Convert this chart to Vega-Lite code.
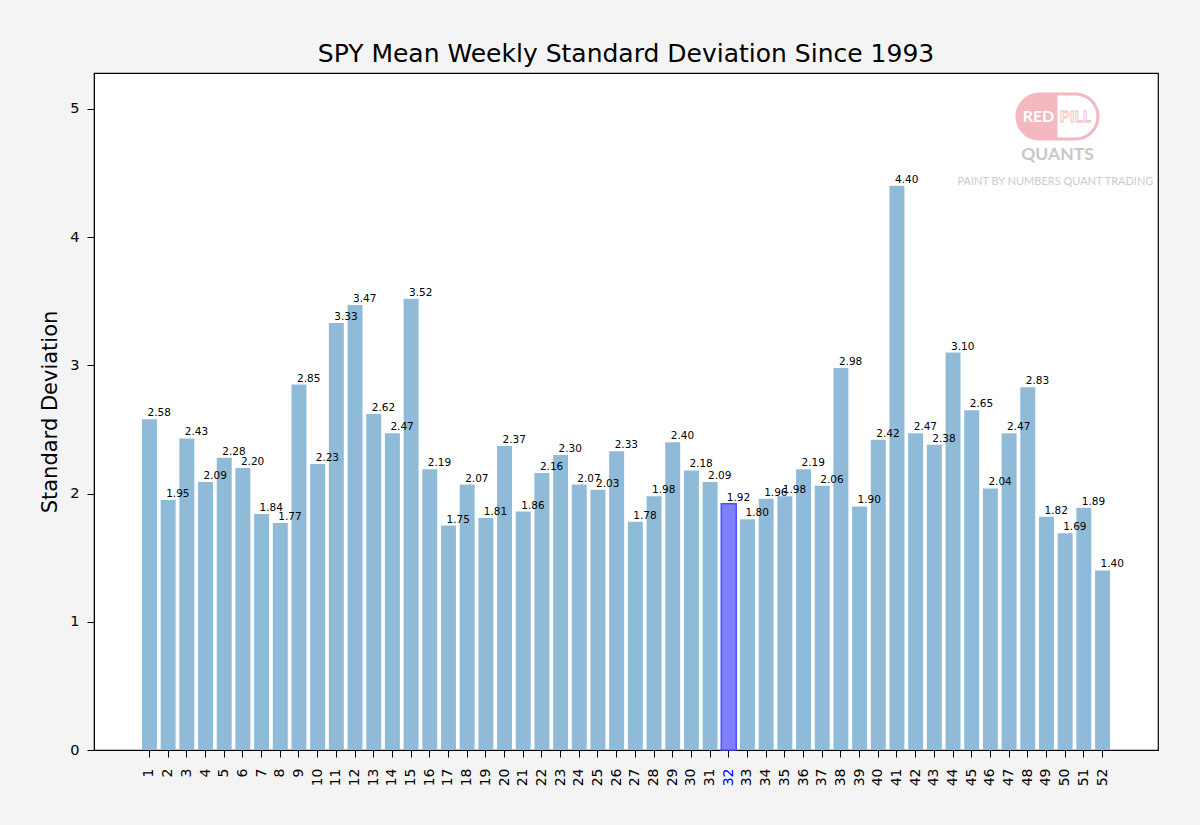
{
  "$schema": "https://vega.github.io/schema/vega-lite/v6.json",
  "description": "SPY mean weekly standard deviation by week of year since 1993",
  "title": {
    "text": "SPY Mean Weekly Standard Deviation Since 1993",
    "font": "DejaVu Sans",
    "fontSize": 25,
    "fontWeight": "normal",
    "color": "black",
    "offset": 6
  },
  "width": 1064,
  "height": 677,
  "autosize": {"type": "none"},
  "padding": {"left": 94, "top": 73, "right": 42, "bottom": 75},
  "background": "#f4f4f4",
  "config": {
    "view": {"fill": "white", "stroke": "black", "strokeWidth": 1.2},
    "axis": {
      "labelFont": "DejaVu Sans",
      "titleFont": "DejaVu Sans",
      "labelColor": "black",
      "domainColor": "black",
      "tickColor": "black",
      "grid": false,
      "ticks": true,
      "tickSize": 7
    }
  },
  "data": {
    "values": [
      {"week": "1", "std": 2.58}, {"week": "2", "std": 1.95}, {"week": "3", "std": 2.43},
      {"week": "4", "std": 2.09}, {"week": "5", "std": 2.28}, {"week": "6", "std": 2.20},
      {"week": "7", "std": 1.84}, {"week": "8", "std": 1.77}, {"week": "9", "std": 2.85},
      {"week": "10", "std": 2.23}, {"week": "11", "std": 3.33}, {"week": "12", "std": 3.47},
      {"week": "13", "std": 2.62}, {"week": "14", "std": 2.47}, {"week": "15", "std": 3.52},
      {"week": "16", "std": 2.19}, {"week": "17", "std": 1.75}, {"week": "18", "std": 2.07},
      {"week": "19", "std": 1.81}, {"week": "20", "std": 2.37}, {"week": "21", "std": 1.86},
      {"week": "22", "std": 2.16}, {"week": "23", "std": 2.30}, {"week": "24", "std": 2.07},
      {"week": "25", "std": 2.03}, {"week": "26", "std": 2.33}, {"week": "27", "std": 1.78},
      {"week": "28", "std": 1.98}, {"week": "29", "std": 2.40}, {"week": "30", "std": 2.18},
      {"week": "31", "std": 2.09}, {"week": "32", "std": 1.92}, {"week": "33", "std": 1.80},
      {"week": "34", "std": 1.96}, {"week": "35", "std": 1.98}, {"week": "36", "std": 2.19},
      {"week": "37", "std": 2.06}, {"week": "38", "std": 2.98}, {"week": "39", "std": 1.90},
      {"week": "40", "std": 2.42}, {"week": "41", "std": 4.40}, {"week": "42", "std": 2.47},
      {"week": "43", "std": 2.38}, {"week": "44", "std": 3.10}, {"week": "45", "std": 2.65},
      {"week": "46", "std": 2.04}, {"week": "47", "std": 2.47}, {"week": "48", "std": 2.83},
      {"week": "49", "std": 1.82}, {"week": "50", "std": 1.69}, {"week": "51", "std": 1.89},
      {"week": "52", "std": 1.40}
    ]
  },
  "encoding": {
    "x": {
      "field": "week",
      "type": "ordinal",
      "sort": null,
      "scale": {"paddingInner": 0.2, "paddingOuter": 0, "range": [48, 1016]},
      "axis": {
        "title": null,
        "labelAngle": 270,
        "labelFontSize": 14,
        "labelPadding": 11,
        "labelColor": {"condition": {"test": "datum.value == '32'", "value": "blue"}, "value": "black"}
      }
    },
    "y": {
      "field": "std",
      "type": "quantitative",
      "scale": {"domain": [0, 5.28], "nice": false},
      "axis": {
        "title": "Standard Deviation",
        "titleFontSize": 21,
        "titleFontWeight": "normal",
        "titleColor": "black",
        "titlePadding": 9,
        "labelFontSize": 14.5,
        "labelPadding": 8,
        "values": [0, 1, 2, 3, 4, 5]
      }
    }
  },
  "layer": [
    {
      "mark": {"type": "bar"},
      "encoding": {
        "color": {
          "condition": {"test": "datum.week == '32'", "value": "#8080ff"},
          "value": "#8fbbd9"
        },
        "stroke": {
          "condition": {"test": "datum.week == '32'", "value": "#5050ff"},
          "value": null
        },
        "strokeWidth": {
          "condition": {"test": "datum.week == '32'", "value": 1.6},
          "value": 0
        }
      }
    },
    {
      "mark": {"type": "text", "align": "left", "baseline": "bottom", "dx": -2, "dy": -1, "font": "DejaVu Sans", "fontSize": 10.5, "color": "black"},
      "encoding": {
        "text": {"field": "std", "type": "quantitative", "format": ".2f"}
      }
    },
    {
      "transform": [{"filter": "datum.week == '49'"}],
      "layer": [
        {
          "mark": {
            "type": "point",
            "filled": true,
            "opacity": 1,
            "color": "#f4b8c0",
            "size": 7056,
            "shape": "M -0.167 -0.571 L 0.691 -0.571 A 0.571 0.571 0 0 1 0.691 0.571 L -0.167 0.571 A 0.571 0.571 0 0 1 -0.167 -0.571 Z"
          },
          "encoding": {"y": {"datum": 4.94}}
        },
        {
          "mark": {
            "type": "point",
            "filled": true,
            "opacity": 1,
            "color": "white",
            "size": 7056,
            "shape": "M 0.262 -0.5 L 0.69 -0.5 A 0.5 0.5 0 0 1 0.69 0.5 L 0.262 0.5 Z"
          },
          "encoding": {"y": {"datum": 4.94}}
        },
        {
          "mark": {"type": "text", "text": "RED", "dx": -8, "font": "Lato", "fontWeight": "bold", "fontSize": 16, "color": "white", "baseline": "middle", "align": "center"},
          "encoding": {"y": {"datum": 4.94}}
        },
        {
          "mark": {"type": "text", "text": "PILL", "dx": 29, "font": "Lato", "fontWeight": "bold", "fontSize": 16, "color": "white", "stroke": "#f4b8c0", "strokeWidth": 0.8, "baseline": "middle", "align": "center"},
          "encoding": {"y": {"datum": 4.94}}
        },
        {
          "mark": {"type": "text", "text": "QUANTS", "dx": 11, "font": "Lato", "fontWeight": "bold", "fontSize": 17.5, "color": "#c8c8c8", "baseline": "middle", "align": "center"},
          "encoding": {"y": {"datum": 4.64}}
        },
        {
          "mark": {"type": "text", "text": "PAINT BY NUMBERS QUANT TRADING", "dx": 9, "font": "Lato", "fontSize": 11, "color": "#cccccc", "baseline": "middle", "align": "center"},
          "encoding": {"y": {"datum": 4.43}}
        }
      ]
    }
  ]
}
